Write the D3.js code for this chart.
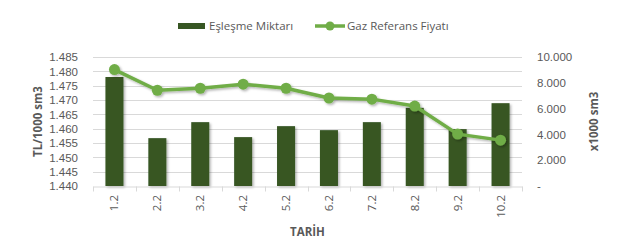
<!DOCTYPE html>
<html>
<head>
<meta charset="utf-8">
<script src="https://cdn.jsdelivr.net/npm/d3@7"></script>
<style>
  body { margin: 0; background: #fff; }
  svg { font-family: "Open Sans", "Liberation Sans", sans-serif; }
</style>
</head>
<body>
<div id="chart"></div>
<script>
// chart data
const dates = ['1.2', '2.2', '3.2', '4.2', '5.2', '6.2', '7.2', '8.2', '9.2', '10.2'];
const quantity = [8450, 3710, 4950, 3790, 4640, 4330, 4950, 6060, 4410, 6420]; // x1000 sm3
const price = [1480.6, 1473.4, 1474.1, 1475.5, 1474.1, 1470.7, 1470.3, 1467.9, 1458.1, 1456.0]; // TL/1000 sm3
const leftTicks = [1440, 1445, 1450, 1455, 1460, 1465, 1470, 1475, 1480, 1485];
const rightTicks = [0, 2000, 4000, 6000, 8000, 10000];

const width = 621;
const height = 252;
const margin = { top: 57, right: 99, bottom: 66, left: 93 };
const innerW = width - margin.left - margin.right;
const innerH = height - margin.top - margin.bottom;

const gray = '#595959';
const barColor = '#375623';
const lineColor = '#70ad47';

// Turkish style thousands separator
const fmt = d3.formatLocale({ decimal: ',', thousands: '.', grouping: [3], currency: ['', ''] }).format(',.0f');

const svg = d3.select('#chart')
  .append('svg')
  .attr('width', width)
  .attr('height', height);

const defs = svg.append('defs');
const shadow = defs.append('filter').attr('id', 'shadow')
  .attr('x', '-20%').attr('y', '-20%').attr('width', '150%').attr('height', '150%');
shadow.append('feDropShadow')
  .attr('dx', 1.5).attr('dy', 1.5).attr('stdDeviation', 1.2)
  .attr('flood-color', '#000').attr('flood-opacity', 0.3);

const chart = svg.append('g')
  .attr('transform', 'translate(' + margin.left + ',' + margin.top + ')');

const x = d3.scaleBand().domain(dates).range([0, innerW]).paddingInner(0.58).paddingOuter(0.29);
const xLine = d3.scaleBand().domain(dates).range([0, innerW]);
const yLeft = d3.scaleLinear().domain([1440, 1485]).range([innerH, 0]);
const yRight = d3.scaleLinear().domain([0, 10000]).range([innerH, 0]);

// gridlines
chart.append('g')
  .selectAll('line')
  .data(leftTicks.slice(1))
  .enter()
  .append('line')
  .attr('x1', 0)
  .attr('x2', innerW)
  .attr('y1', d => Math.round(yLeft(d)) + 0.5)
  .attr('y2', d => Math.round(yLeft(d)) + 0.5)
  .attr('stroke', '#d9d9d9')
  .attr('stroke-width', 1);

// left axis
const leftAxis = chart.append('g')
  .call(d3.axisLeft(yLeft).tickValues(leftTicks).tickFormat(fmt).tickSize(0).tickPadding(15));
leftAxis.select('.domain').remove();
leftAxis.selectAll('text').attr('fill', gray).attr('font-size', 11.5);

// right axis
const rightAxis = chart.append('g')
  .attr('transform', 'translate(' + innerW + ',0)')
  .call(d3.axisRight(yRight).tickValues(rightTicks)
    .tickFormat(d => d === 0 ? '-' : fmt(d)).tickSize(0).tickPadding(15));
rightAxis.select('.domain').remove();
rightAxis.selectAll('text').attr('fill', gray).attr('font-size', 11.5);

// bars
chart.append('g')
  .selectAll('rect')
  .data(quantity)
  .enter()
  .append('rect')
  .attr('x', (d, i) => x(dates[i]))
  .attr('width', x.bandwidth())
  .attr('y', d => yRight(d))
  .attr('height', d => innerH - yRight(d))
  .attr('fill', barColor)
  .attr('filter', 'url(#shadow)');

// x axis
const xAxis = chart.append('g')
  .attr('transform', 'translate(0,' + (innerH + 0.5) + ')')
  .call(d3.axisBottom(xLine).tickSize(0).tickFormat(''));
xAxis.select('.domain').attr('stroke', '#d9d9d9');
xAxis.selectAll('.tick').remove();
xAxis.selectAll('.bound')
  .data(d3.range(dates.length + 1))
  .enter()
  .append('line')
  .attr('x1', i => Math.round(i * xLine.step()) + 0.5)
  .attr('x2', i => Math.round(i * xLine.step()) + 0.5)
  .attr('y1', 0)
  .attr('y2', 5)
  .attr('stroke', '#d9d9d9');

chart.append('g')
  .selectAll('text')
  .data(dates)
  .enter()
  .append('text')
  .attr('transform', d => 'translate(' + (xLine(d) + xLine.bandwidth() / 2) + ',' + (innerH + 9) + ') rotate(-90)')
  .attr('text-anchor', 'end')
  .attr('dy', '0.35em')
  .attr('fill', gray)
  .attr('font-size', 11.5)
  .text(d => d);

// price line
const drawLine = d3.line()
  .x((d, i) => xLine(dates[i]) + xLine.bandwidth() / 2)
  .y(d => yLeft(d));

const lineG = chart.append('g').attr('filter', 'url(#shadow)');
lineG.append('path')
  .datum(price)
  .attr('d', drawLine)
  .attr('fill', 'none')
  .attr('stroke', lineColor)
  .attr('stroke-width', 3.5)
  .attr('stroke-linejoin', 'round');
lineG.selectAll('circle')
  .data(price)
  .enter()
  .append('circle')
  .attr('cx', (d, i) => xLine(dates[i]) + xLine.bandwidth() / 2)
  .attr('cy', d => yLeft(d))
  .attr('r', 5.5)
  .attr('fill', lineColor);

// axis titles
svg.append('text')
  .attr('transform', 'translate(38,' + (margin.top + innerH / 2) + ') rotate(-90)')
  .attr('text-anchor', 'middle')
  .attr('dy', '0.35em')
  .attr('font-weight', 'bold')
  .attr('font-size', 11.5)
  .attr('fill', gray)
  .text('TL/1000 sm3');

svg.append('text')
  .attr('transform', 'translate(594,' + (margin.top + innerH / 2) + ') rotate(-90)')
  .attr('text-anchor', 'middle')
  .attr('dy', '0.35em')
  .attr('font-weight', 'bold')
  .attr('font-size', 11.5)
  .attr('fill', gray)
  .text('x1000 sm3');

svg.append('text')
  .attr('x', margin.left + innerW / 2)
  .attr('y', 236)
  .attr('text-anchor', 'middle')
  .attr('font-weight', 'bold')
  .attr('font-size', 11.5)
  .attr('fill', gray)
  .text('TARİH');

// legend
const legend = svg.append('g');
legend.append('rect')
  .attr('x', 178).attr('y', 23).attr('width', 27).attr('height', 6)
  .attr('fill', barColor);
legend.append('text')
  .attr('x', 209).attr('y', 30)
  .attr('font-size', 11.5).attr('fill', gray)
  .text('Eşleşme Miktarı');
legend.append('line')
  .attr('x1', 315).attr('x2', 345).attr('y1', 26).attr('y2', 26)
  .attr('stroke', lineColor).attr('stroke-width', 3.5);
legend.append('circle')
  .attr('cx', 330).attr('cy', 26).attr('r', 4.5)
  .attr('fill', lineColor);
legend.append('text')
  .attr('x', 347).attr('y', 30)
  .attr('font-size', 11.5).attr('fill', gray)
  .text('Gaz Referans Fiyatı');
</script>
</body>
</html>
